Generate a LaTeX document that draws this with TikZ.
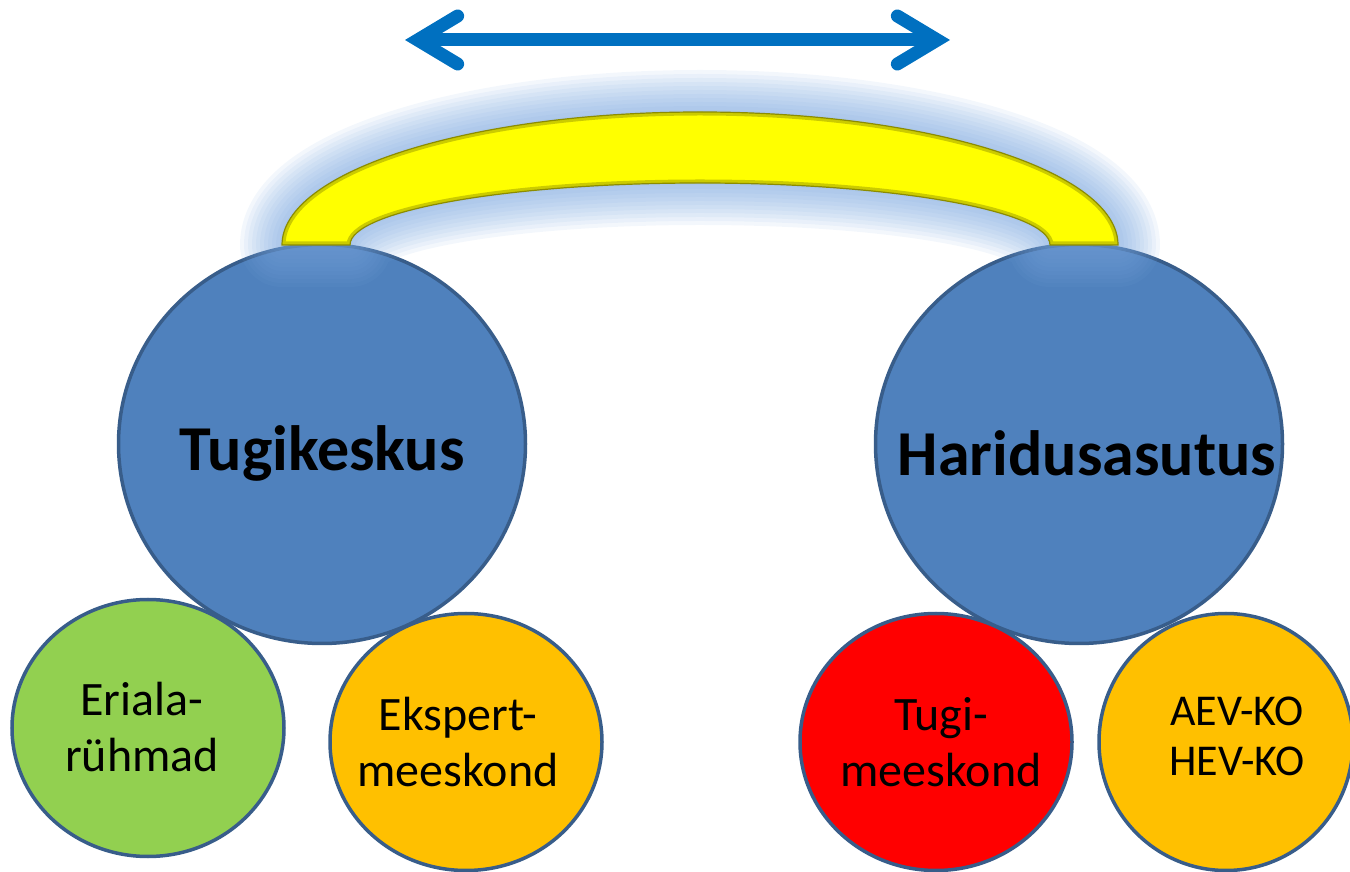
\documentclass[tikz,border=0pt]{standalone}
\usepackage{fontspec}
\setmainfont{Carlito}
\usetikzlibrary{arrows.meta}
\usetikzlibrary{positioning}
\usetikzlibrary{shapes.geometric}

\definecolor{hubblue}{RGB}{79,129,189}
\definecolor{rimblue}{RGB}{56,93,138}
\definecolor{grassgreen}{RGB}{146,208,80}
\definecolor{amber}{RGB}{255,192,0}
\definecolor{arrowblue}{RGB}{0,112,192}
\definecolor{haloblue}{RGB}{120,165,222}
\definecolor{bridgeyellow}{RGB}{255,255,0}
\definecolor{archedge}{RGB}{140,140,0}

\def\bridgepath{(282,626) arc[start angle=180, end angle=0, x radius=418, y radius=133] -- (1050,626) arc[start angle=0, end angle=180, x radius=350, y radius=62] -- cycle}

\begin{document}
\begin{tikzpicture}[x=1pt, y=1pt,
      hub/.style={ellipse, draw=rimblue, fill=hubblue, line width=3.5pt, minimum width=407pt, minimum height=399pt, inner sep=0pt},
      team/.style={ellipse, draw=rimblue, line width=3.5pt, minimum width=272pt, minimum height=257pt, inner sep=0pt},
      title/.style={inner sep=0pt, font=\fontsize{64}{70}\selectfont\bfseries},
      caption/.style={inner sep=0pt, align=center, font=\fontsize{48}{56}\selectfont},
      halo/.style={draw=haloblue, opacity=0.085, line join=round},
      arrow/.style={<->, >={Straight Barb[length=40pt,width=48pt,line cap=round]}, line width=13pt, draw=arrowblue}
      ]

      \useasboundingbox (0,0) rectangle (1350,871);

      % Nodes
      \node[team, fill=grassgreen] (eriala) at (148,143) {};
      \node[team, fill=red] (tugi) at (936,129) {};
      \node[hub] (keskus) at (322,427) {};
      \node[hub] (asutus) at (1079,427) {};
      \node[team, fill=amber] (ekspert) at (466,129) {};
      \node[team, fill=amber, minimum width=254pt] (kojad) at (1226,129) {};

      % Labels
      \node[title] (keskusText) at ([yshift=-9pt]keskus.center) {Tugikeskus};
      \node[title] (asutusText) at ([xshift=8pt, yshift=-9pt]asutus.center) {Haridusasutus};
      \node[caption] (erialaText) at (142,144) {Eriala-\\rühmad};
      \node[caption] (ekspertText) at (458,129) {Ekspert-\\meeskond};
      \node[caption] (tugiText) at (941,129) {Tugi-\\meeskond};
      \node[caption, font=\fontsize{44}{50}\selectfont] (kojadText) at (1237,135) {AEV-KO\\HEV-KO};

      % Bridge
      \foreach \w in {84,76,...,4}
        \draw[halo, line width=\w pt] \bridgepath;
      \fill[bridgeyellow] \bridgepath;
      \begin{scope}
        \clip \bridgepath;
        \draw[archedge, line width=7pt, opacity=0.45] \bridgepath;
      \end{scope}
      \draw[archedge, line width=1.2pt] \bridgepath;

      % Arrows
      \coordinate (west) at (405,831);
      \coordinate (east) at (950,831);
      \draw[arrow] (west) -- (east);

    \end{tikzpicture}
\end{document}
